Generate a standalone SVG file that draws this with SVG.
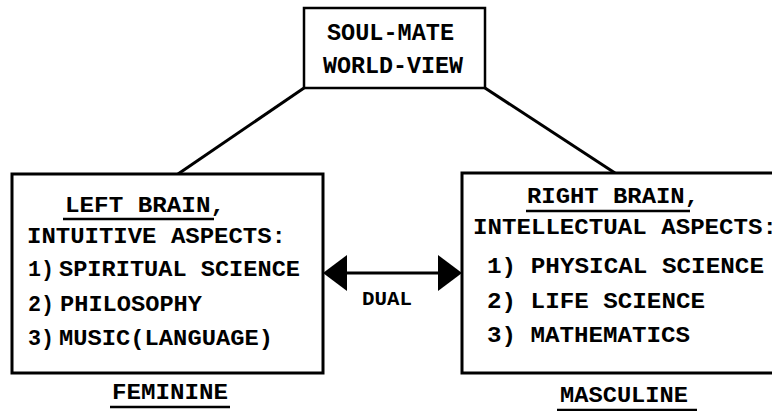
<svg xmlns="http://www.w3.org/2000/svg" width="772" height="411" viewBox="0 0 772 411">
<defs>
<style>
.box{fill:#fff;stroke:#000;stroke-width:3}
.t{font-family:"Liberation Mono","Courier New",monospace;font-weight:bold;font-size:22px;fill:#000}
.tt{font-family:"Liberation Mono","Courier New",monospace;font-weight:bold;font-size:24px;fill:#000}
.ul{stroke:#000;stroke-width:2.5}
.conn{stroke:#000;stroke-width:3;fill:none}
</style>
<marker id="ah" viewBox="0 0 24 36" refX="12" refY="18" markerWidth="24" markerHeight="36" markerUnits="userSpaceOnUse" orient="auto-start-reverse">
<path d="M0,0 L24,18 L0,36 Z" fill="#000"/>
</marker>
</defs>
<rect width="772" height="411" fill="#fff"/>
<g id="connectors">
<line class="conn" x1="304" y1="88" x2="178" y2="174"/>
<line class="conn" x1="485" y1="88" x2="615" y2="173"/>
<line class="conn" x1="335" y1="273" x2="450" y2="273" marker-start="url(#ah)" marker-end="url(#ah)"/>
<text class="t" x="362" y="305" textLength="50" lengthAdjust="spacingAndGlyphs" style="font-size:20px">DUAL</text>
</g>
<g id="soulmate">
<rect class="box" x="304" y="8" width="181" height="80" style="stroke-width:2.5"/>
<text class="tt" x="327" y="40" textLength="127" lengthAdjust="spacingAndGlyphs">SOUL-MATE</text>
<text class="tt" x="323" y="73" textLength="140" lengthAdjust="spacingAndGlyphs">WORLD-VIEW</text>
</g>
<g id="left-brain">
<rect class="box" x="12" y="174" width="311" height="199"/>
<text class="t" x="65" y="212" textLength="160" lengthAdjust="spacingAndGlyphs">LEFT BRAIN,</text>
<line class="ul" x1="63" y1="219" x2="214" y2="219"/>
<text class="t" x="27" y="243" textLength="259" lengthAdjust="spacingAndGlyphs">INTUITIVE ASPECTS:</text>
<text class="t" y="276"><tspan x="28" textLength="26" lengthAdjust="spacingAndGlyphs">1)</tspan> <tspan x="59" textLength="241" lengthAdjust="spacingAndGlyphs">SPIRITUAL SCIENCE</tspan></text>
<text class="t" y="311"><tspan x="28" textLength="26" lengthAdjust="spacingAndGlyphs">2)</tspan> <tspan x="60" textLength="142" lengthAdjust="spacingAndGlyphs">PHILOSOPHY</tspan></text>
<text class="t" y="345"><tspan x="28" textLength="26" lengthAdjust="spacingAndGlyphs">3)</tspan> <tspan x="59" textLength="214" lengthAdjust="spacingAndGlyphs">MUSIC(LANGUAGE)</tspan></text>
</g>
<g id="right-brain">
<rect class="box" x="462" y="173" width="330" height="200"/>
<text class="t" x="527" y="203" textLength="172" lengthAdjust="spacingAndGlyphs">RIGHT BRAIN,</text>
<line class="ul" x1="526" y1="211" x2="690" y2="211"/>
<text class="t" x="473" y="234" textLength="304" lengthAdjust="spacingAndGlyphs">INTELLECTUAL ASPECTS:</text>
<text class="t" x="487" y="273" textLength="277" lengthAdjust="spacingAndGlyphs">1) PHYSICAL SCIENCE</text>
<text class="t" x="487" y="308" textLength="218" lengthAdjust="spacingAndGlyphs">2) LIFE SCIENCE</text>
<text class="t" x="487" y="342" textLength="203" lengthAdjust="spacingAndGlyphs">3) MATHEMATICS</text>
</g>
<g id="feminine">
<text class="t" x="112" y="399" textLength="116" lengthAdjust="spacingAndGlyphs">FEMININE</text>
<line class="ul" x1="110" y1="407" x2="230" y2="407"/>
</g>
<g id="masculine">
<text class="t" x="560" y="402" textLength="128" lengthAdjust="spacingAndGlyphs">MASCULINE</text>
<line class="ul" x1="557" y1="410" x2="697" y2="410"/>
</g>
</svg>
